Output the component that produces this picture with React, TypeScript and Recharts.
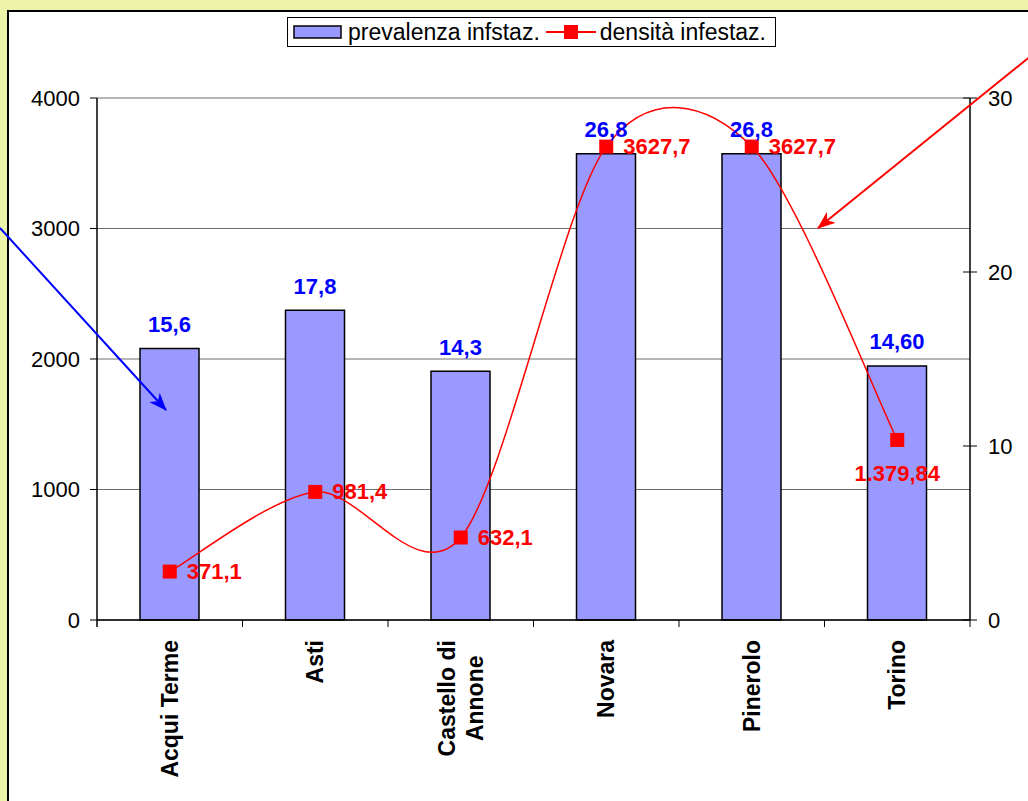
import React from 'react';
import { ComposedChart, Bar, Line, XAxis, YAxis, CartesianGrid, LabelList, Legend } from 'recharts';

const categories = ['Acqui Terme', 'Asti', 'Castello di Annone', 'Novara', 'Pinerolo', 'Torino'];
const prevalenza = [15.6, 17.8, 14.3, 26.8, 26.8, 14.6];
const prevalenzaLabels = ['15,6', '17,8', '14,3', '26,8', '26,8', '14,60'];
const densita = [371.1, 981.4, 632.1, 3627.7, 3627.7, 1379.84];
const densitaLabels = ['371,1', '981,4', '632,1', '3627,7', '3627,7', '1.379,84'];
const leftTicks = [0, 1000, 2000, 3000, 4000];
const rightTicks = [0, 10, 20, 30];
const densitaLabelSide = ['right', 'right', 'right', 'right', 'right', 'below'];

const data = categories.map((c, i) => ({
  name: c,
  prev: prevalenza[i],
  prevLabel: prevalenzaLabels[i],
  dens: densita[i],
  densLabel: densitaLabels[i],
}));

// annotation arrows (pixel positions of the page overlay)
const annotationArrows = [
  { id: 'blue', from: [0, 228], to: [166, 410], color: '#0000FF' },
  { id: 'red', from: [1032, 55], to: [818, 228], color: '#FF0000' },
];

const FONT = '"Liberation Sans", Arial, sans-serif';
const FS = 22;
const FS_CAT = 23;
const FS_LEG = 23;

// Excel-like smoothing (uniform Catmull-Rom as cubic Bezier)
const excelSmooth: any = (context: any) => {
  let pts: number[][] = [];
  return {
    areaStart() {},
    areaEnd() {},
    lineStart() {
      pts = [];
    },
    point(x: number, y: number) {
      pts.push([+x, +y]);
    },
    lineEnd() {
      if (!pts.length) return;
      context.moveTo(pts[0][0], pts[0][1]);
      for (let i = 0; i < pts.length - 1; i++) {
        const p0 = pts[i - 1] || pts[i];
        const p1 = pts[i];
        const p2 = pts[i + 1];
        const p3 = pts[i + 2] || p2;
        const t = 6.6;
        context.bezierCurveTo(
          p1[0] + (p2[0] - p0[0]) / t,
          p1[1] + (p2[1] - p0[1]) / t,
          p2[0] - (p3[0] - p1[0]) / t,
          p2[1] - (p3[1] - p1[1]) / t,
          p2[0],
          p2[1]
        );
      }
    },
  };
};

const wrapLabel = (s: string): string[] => {
  if (s.length <= 12) return [s];
  const k = s.lastIndexOf(' ');
  return [s.slice(0, k), s.slice(k + 1)];
};

const CategoryTick = (props: any) => {
  const { x, y, payload, index } = props;
  const off = payload && payload.offset ? payload.offset : 72.75;
  const lines = wrapLabel(String(payload.value));
  const longest = Math.max(...lines.map((l) => l.length));
  const top = y + 20;
  return (
    <g>
      {index === 0 && <line x1={x - off} y1={y} x2={x - off} y2={y + 7} stroke="#000" strokeWidth={1.5} />}
      <line x1={x + off} y1={y} x2={x + off} y2={y + 7} stroke="#000" strokeWidth={1} />
      {lines.length === 1 ? (
        <text
          transform={`translate(${x},${top}) rotate(-90)`}
          textAnchor="end"
          dominantBaseline="central"
          fontFamily={FONT}
          fontSize={FS_CAT}
          fontWeight="bold"
          fill="#000"
        >
          {lines[0]}
        </text>
      ) : (
        lines.map((l, i) => (
          <text
            key={i}
            transform={`translate(${x + (i - (lines.length - 1) / 2) * 28},${top + (longest * 10.6) / 2}) rotate(-90)`}
            textAnchor="middle"
            dominantBaseline="central"
            fontFamily={FONT}
            fontSize={FS_CAT}
            fontWeight="bold"
            fill="#000"
          >
            {l}
          </text>
        ))
      )}
    </g>
  );
};

const LeftTick = (props: any) => {
  const { x, y, payload } = props;
  return (
    <g>
      <line x1={x - 7} y1={y} x2={x} y2={y} stroke="#000" strokeWidth={1} />
      <text x={x - 17} y={y} textAnchor="end" dominantBaseline="central" fontFamily={FONT} fontSize={FS} fill="#000">
        {payload.value}
      </text>
    </g>
  );
};

const RightTick = (props: any) => {
  const { x, y, payload } = props;
  return (
    <g>
      <line x1={x - 7} y1={y} x2={x + 7} y2={y} stroke="#000" strokeWidth={1} />
      <text x={x + 18} y={y} textAnchor="start" dominantBaseline="central" fontFamily={FONT} fontSize={FS} fill="#000">
        {payload.value}
      </text>
    </g>
  );
};

const SquareDot = (props: any) => {
  const { cx, cy, index } = props;
  if (cx == null || cy == null) return null;
  return <rect key={`d${index}`} x={cx - 7} y={cy - 7} width={14} height={14} fill="#FF0000" />;
};

const renderBarLabel = (props: any) => {
  const { x, y, width, value } = props;
  return (
    <text
      x={x + width / 2}
      y={y - 24}
      textAnchor="middle"
      dominantBaseline="central"
      fontFamily={FONT}
      fontSize={FS}
      fontWeight="bold"
      fill="#0000FF"
    >
      {value}
    </text>
  );
};

const renderDensLabel = (props: any) => {
  const { x, y, value, index } = props;
  const side = densitaLabelSide[index];
  const common = { fontFamily: FONT, fontSize: FS, fontWeight: 'bold' as const, fill: '#FF0000', dominantBaseline: 'central' as const };
  if (side === 'below') {
    return (
      <text x={x} y={y + 34} textAnchor="middle" {...common}>
        {value}
      </text>
    );
  }
  return (
    <text x={x + 17} y={y} textAnchor="start" {...common}>
      {value}
    </text>
  );
};

const renderLegend = () => (
  <div
    style={{
      boxSizing: 'border-box',
      width: 489,
      height: 30,
      border: '1px solid #000',
      background: '#fff',
      display: 'flex',
      alignItems: 'center',
      fontFamily: FONT,
      fontSize: FS_LEG,
      color: '#000',
      whiteSpace: 'nowrap',
      paddingLeft: 5,
      lineHeight: '28px',
    }}
  >
    <svg width={50} height={16} style={{ display: 'block' }}>
      <rect x={1} y={2} width={47} height={12} fill="#9999FF" stroke="#000" strokeWidth={1.5} />
    </svg>
    <span style={{ marginLeft: 5 }}>prevalenza infstaz.</span>
    <svg width={52} height={16} style={{ display: 'block', marginLeft: 6 }}>
      <line x1={0} y1={8} x2={50} y2={8} stroke="#FF0000" strokeWidth={2} />
      <rect x={18} y={1} width={14} height={14} fill="#FF0000" />
    </svg>
    <span style={{ marginLeft: 2 }}>densità infestaz.</span>
  </div>
);

export default function App() {
  return (
    <div
      style={{
        position: 'absolute',
        left: 0,
        top: 0,
        width: 1028,
        height: 801,
        background: '#EEF3AA',
        overflow: 'hidden',
      }}
    >
      <div
        style={{
          position: 'absolute',
          left: 7,
          top: 10,
          width: 1100,
          height: 900,
          background: '#FFFFFF',
          border: '2px solid #000',
        }}
      />
      <div style={{ position: 'absolute', left: 0, top: 0 }}>
        <ComposedChart width={1028} height={801} data={data} margin={{ top: 98, right: 0, bottom: 0, left: 37 }}>
          <CartesianGrid yAxisId="left" vertical={false} stroke="#6e6e6e" strokeWidth={1} />
          <XAxis
            dataKey="name"
            height={181}
            interval={0}
            tickSize={0}
            tickMargin={0}
            tickLine={false}
            axisLine={{ stroke: '#000', strokeWidth: 1.5 }}
            tick={<CategoryTick />}
          />
          <YAxis
            yAxisId="left"
            orientation="left"
            width={60}
            domain={[0, 4000]}
            ticks={leftTicks}
            interval={0}
            tickSize={0}
            tickMargin={0}
            tickLine={false}
            axisLine={{ stroke: '#000', strokeWidth: 1.5 }}
            tick={<LeftTick />}
          />
          <YAxis
            yAxisId="right"
            orientation="right"
            width={58}
            domain={[0, 30]}
            ticks={rightTicks}
            interval={0}
            tickSize={0}
            tickMargin={0}
            tickLine={false}
            axisLine={{ stroke: '#000', strokeWidth: 1.5 }}
            tick={<RightTick />}
          />
          <Legend
            layout="horizontal"
            verticalAlign="middle"
            align="center"
            wrapperStyle={{ top: 17, left: 287, width: 489, height: 30 }}
            content={renderLegend}
          />
          <Bar
            yAxisId="right"
            dataKey="prev"
            name="prevalenza infstaz."
            fill="#9999FF"
            stroke="#000"
            strokeWidth={1.5}
            barSize={59}
            isAnimationActive={false}
          >
            <LabelList dataKey="prevLabel" content={renderBarLabel} />
          </Bar>
          <Line
            yAxisId="left"
            dataKey="dens"
            name="densità infestaz."
            type={excelSmooth}
            stroke="#FF0000"
            strokeWidth={1.5}
            dot={<SquareDot />}
            activeDot={false}
            isAnimationActive={false}
          >
            <LabelList dataKey="densLabel" content={renderDensLabel} />
          </Line>
        </ComposedChart>
      </div>
      <svg
        width={1028}
        height={801}
        style={{ position: 'absolute', left: 0, top: 0, pointerEvents: 'none' }}
      >
        <defs>
          {annotationArrows.map((a) => (
            <marker
              key={a.id}
              id={`arrow-${a.id}`}
              markerUnits="userSpaceOnUse"
              markerWidth={18}
              markerHeight={14}
              refX={17}
              refY={7}
              orient="auto"
            >
              <path d="M0,0 L18,7 L0,14 L5,7 Z" fill={a.color} />
            </marker>
          ))}
        </defs>
        {annotationArrows.map((a) => (
          <line
            key={a.id}
            x1={a.from[0]}
            y1={a.from[1]}
            x2={a.to[0]}
            y2={a.to[1]}
            stroke={a.color}
            strokeWidth={2}
            markerEnd={`url(#arrow-${a.id})`}
          />
        ))}
      </svg>
    </div>
  );
}
